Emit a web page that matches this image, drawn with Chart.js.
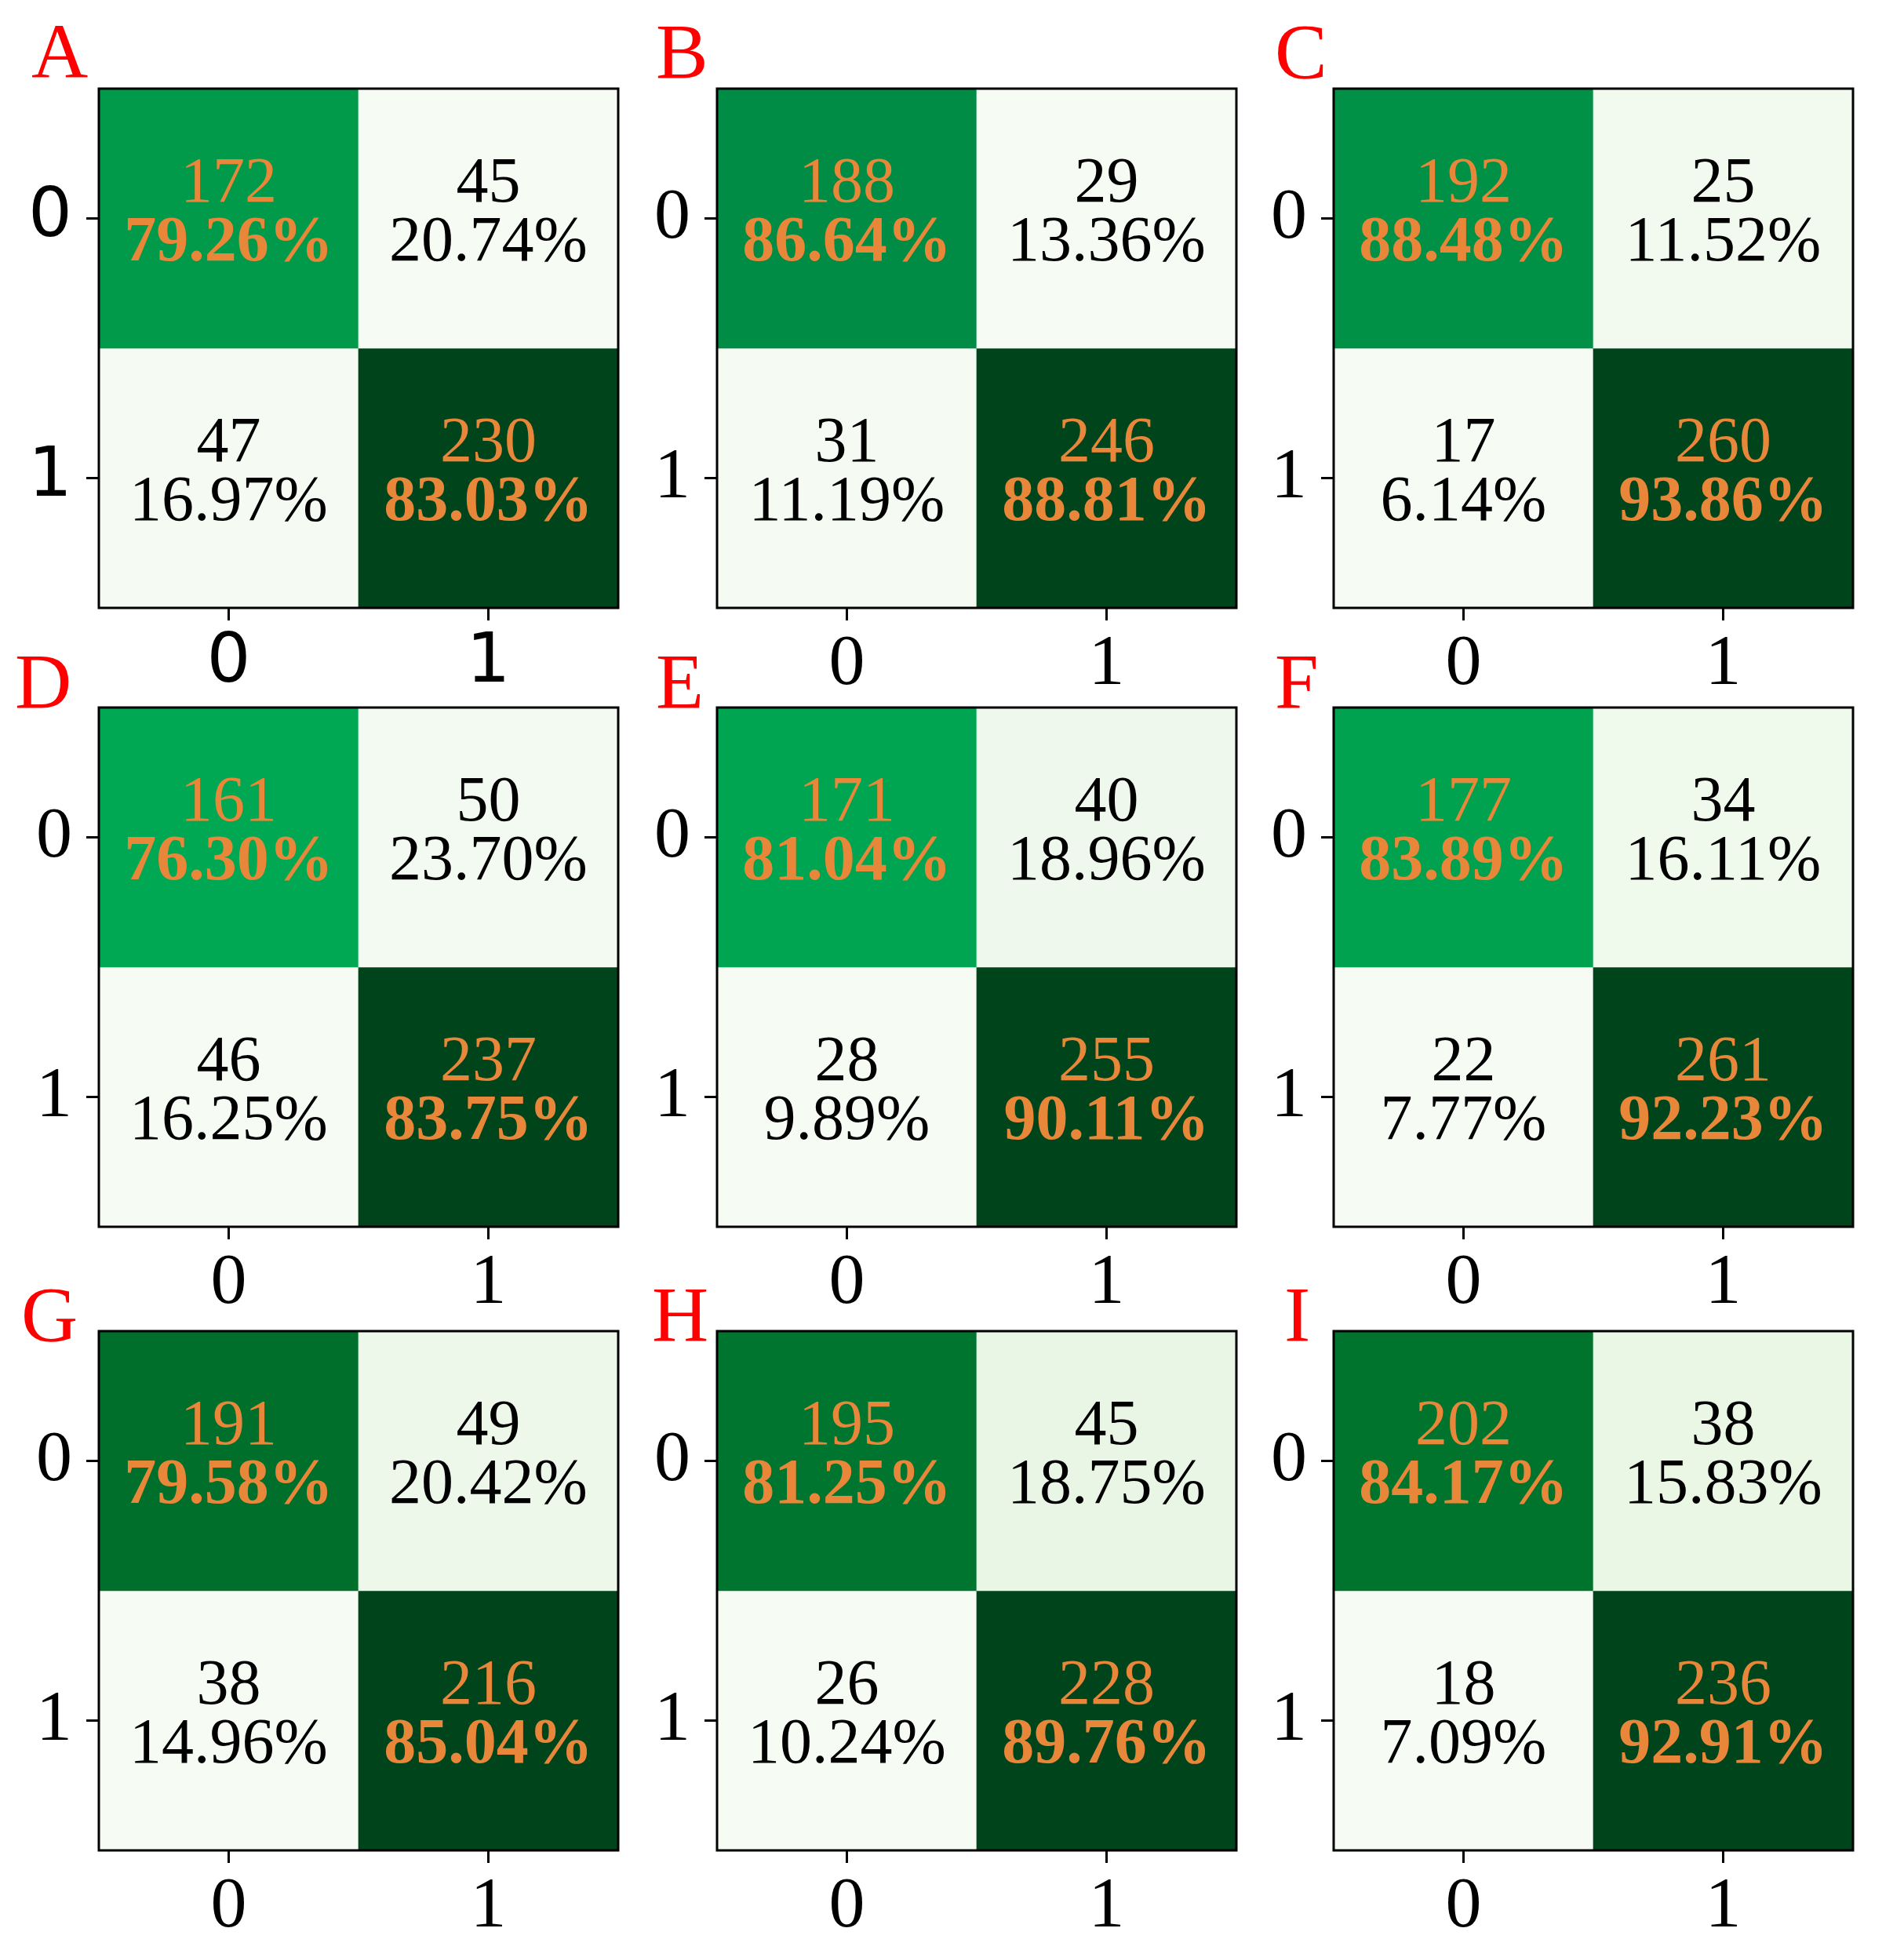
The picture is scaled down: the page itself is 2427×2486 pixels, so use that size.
<!DOCTYPE html>
<html>
<head>
<meta charset="utf-8">
<script src="https://cdn.jsdelivr.net/npm/chart.js@4.4.1/dist/chart.umd.min.js"></script>
<style>
  html, body { margin: 0; padding: 0; background: #ffffff; }
  #page { position: relative; width: 2427px; height: 2486px; overflow: hidden; }
  .panel { position: absolute; }
</style>
</head>
<body>
<div id="page"></div>
<script>
// ---- data: nine 2x2 confusion matrices (rows = true class, cols = predicted)
const panelLetters = ["A", "B", "C", "D", "E", "F", "G", "H", "I"];
const classLabels = ["0", "1"];
const trueNeg  = [172, 188, 192, 161, 171, 177, 191, 195, 202]; // row 0, col 0
const falsePos = [45, 29, 25, 50, 40, 34, 49, 45, 38];          // row 0, col 1
const falseNeg = [47, 31, 17, 46, 28, 22, 38, 26, 18];          // row 1, col 0
const truePos  = [230, 246, 260, 237, 255, 261, 216, 228, 236]; // row 1, col 1

// ---- layout
const colLeft = [126, 914, 1700];
const rowTop = [113, 902, 1697];
const boxSize = 662;
const axisW = 126;   // room for y ticks + labels
const axisH = 130;   // room for x ticks + labels
const letterDx = [-86, -78, -75, -107, -78, -75, -99, -83, -63];
const letterDy = [-14, -14, -14, 0, 0, 0, 12, 12, 12];

const orange = "#e8873a";
const serif = "'Liberation Serif', 'Times New Roman', serif";

// Greens-like colour ramp (saturated in the middle, like the figure)
const rampStops = [
  [0.0, [246, 251, 244]],
  [0.125, [229, 245, 224]],
  [0.25, [199, 233, 192]],
  [0.4, [120, 205, 140]],
  [0.55, [0, 173, 89]],
  [0.625, [0, 166, 82]],
  [0.69, [0, 153, 74]],
  [0.73, [0, 141, 69]],
  [0.85, [0, 114, 44]],
  [1.0, [0, 68, 27]],
];
function greens(t) {
  t = Math.max(0, Math.min(1, t));
  for (let k = 1; k < rampStops.length; k++) {
    const [t1, c1] = rampStops[k];
    const [t0, c0] = rampStops[k - 1];
    if (t <= t1) {
      const f = (t - t0) / (t1 - t0);
      const c = c0.map((v, i) => Math.round(v + (c1[i] - v) * f));
      return `rgb(${c[0]},${c[1]},${c[2]})`;
    }
  }
  return "rgb(0,68,27)";
}

//! cell labels: count on top, row percentage underneath
const cellText = {
  id: "cellText",
  afterDatasetsDraw(chart) {
    const ctx = chart.ctx;
    const size = 82;
    chart.data.datasets.forEach((ds, r) => {
      const meta = chart.getDatasetMeta(r);
      const rowSum = ds.counts.reduce((a, b) => a + b, 0);
      meta.data.forEach((bar, c) => {
        const cx = bar.x;
        const cy = (bar.y + bar.base) / 2;
        const diag = r === c;
        const pct = (100 * ds.counts[c] / rowSum).toFixed(2) + "%";
        ctx.save();
        ctx.textAlign = "center";
        ctx.textBaseline = "alphabetic";
        ctx.fillStyle = diag ? orange : "#000000";
        ctx.font = `normal ${size}px ${serif}`;
        ctx.fillText(String(ds.counts[c]), cx, cy - 22);
        ctx.font = `${diag ? "bold" : "normal"} ${size}px ${serif}`;
        ctx.fillText(pct, cx, cy + 53);
        ctx.restore();
      });
    });
  },
};

//! frame around the plot + panel letter
const frame = {
  id: "frame",
  afterDraw(chart, args, opts) {
    const { ctx, chartArea: a } = chart;
    ctx.save();
    ctx.strokeStyle = "#000000";
    ctx.lineWidth = 3;
    ctx.strokeRect(a.left, a.top, a.right - a.left, a.bottom - a.top);
    ctx.fillStyle = "#ff0000";
    ctx.font = `normal 100px ${serif}`;
    ctx.textAlign = "left";
    ctx.textBaseline = "alphabetic";
    ctx.fillText(opts.letter, a.left + opts.dx, a.top + opts.dy);
    ctx.restore();
  },
};

const page = document.getElementById("page");

panelLetters.forEach((letter, p) => {
  const col = p % 3;
  const row = Math.floor(p / 3);
  const left = colLeft[col] - axisW;
  const top = rowTop[row] - 113;
  const w = axisW + boxSize + 20;
  const h = 113 + boxSize + axisH;

  const div = document.createElement("div");
  div.className = "panel";
  div.style.left = left + "px";
  div.style.top = top + "px";
  const canvas = document.createElement("canvas");
  canvas.width = w;
  canvas.height = h;
  canvas.style.width = w + "px";
  canvas.style.height = h + "px";
  div.appendChild(canvas);
  page.appendChild(div);

  const matrix = [
    [trueNeg[p], falsePos[p]],
    [falseNeg[p], truePos[p]],
  ];
  const flat = matrix.flat();
  const lo = Math.min(...flat);
  const hi = Math.max(...flat);

  const tickFont = p === 0
    ? { family: "'DejaVu Sans', sans-serif", size: 88 }
    : { family: serif, size: 92 };

  const datasets = matrix.map((counts, r) => ({
    label: "row " + classLabels[r],
    counts: counts,
    data: classLabels.map(() => [r - 0.5, r + 0.5]),
    backgroundColor: counts.map((v) => greens((v - lo) / (hi - lo))),
    borderWidth: 0,
    barPercentage: 1,
    categoryPercentage: 1,
    grouped: false,
  }));

  new Chart(canvas, {
    type: "bar",
    data: { labels: classLabels, datasets: datasets },
    plugins: [cellText, frame],
    options: {
      responsive: false,
      animation: false,
      devicePixelRatio: 1,
      layout: { padding: { top: 113, right: 20, left: 0, bottom: 0 } },
      plugins: {
        legend: { display: false },
        tooltip: { enabled: false },
        frame: { letter: letter, dx: letterDx[p], dy: letterDy[p] },
      },
      scales: {
        x: {
          type: "category",
          offset: true,
          grid: { display: true, drawOnChartArea: false, drawTicks: true, tickLength: 16, tickWidth: 3, tickColor: "#000", offset: false },
          border: { display: false },
          ticks: { color: "#000", font: tickFont, padding: 2, maxRotation: 0 },
          afterFit: (scale) => { scale.height = axisH; },
        },
        y: {
          type: "linear",
          reverse: true,
          min: -0.5,
          max: 1.5,
          grid: { display: true, drawOnChartArea: false, drawTicks: true, tickLength: 16, tickWidth: 3, tickColor: "#000" },
          border: { display: false },
          afterBuildTicks: (scale) => {
            scale.ticks = classLabels.map((_, i) => ({ value: i }));
          },
          ticks: {
            color: "#000",
            font: tickFont,
            padding: 18,
            callback: (value) => classLabels[value],
          },
          afterFit: (scale) => { scale.width = axisW; },
        },
      },
    },
  });
});
</script>
</body>
</html>
